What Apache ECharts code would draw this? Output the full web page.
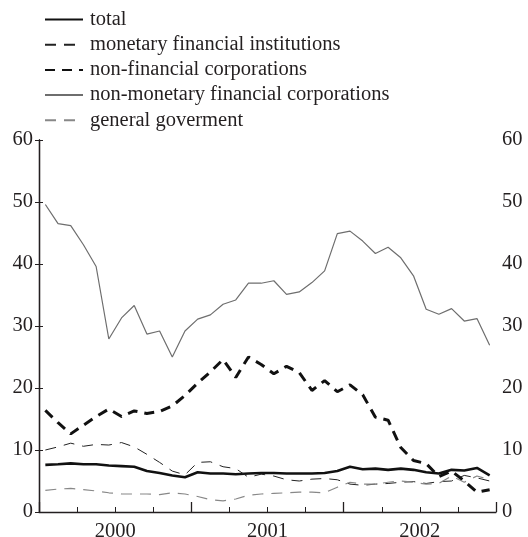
<!DOCTYPE html>
<html>
<head>
<meta charset="utf-8">
<script src="https://cdn.jsdelivr.net/npm/echarts@6/dist/echarts.min.js"></script>
<style>
  html, body { margin: 0; padding: 0; background: #fff; }
  #chart { width: 528px; height: 537px; }
</style>
</head>
<body>
<div id="chart"></div>
<script>
// monthly observations, Jan 2000 .. Dec 2002
var total = [7.6, 7.7, 7.85, 7.7, 7.7, 7.5, 7.4, 7.3, 6.6, 6.3, 5.9, 5.6,
             6.4, 6.2, 6.2, 6.1, 6.2, 6.3, 6.3, 6.2, 6.2, 6.2, 6.3, 6.6,
             7.3, 6.9, 7.0, 6.8, 7.0, 6.8, 6.4, 6.2, 6.8, 6.7, 7.1, 5.9]
var mfi = [10.0, 10.5, 11.1, 10.6, 10.9, 10.8, 11.2, 10.5, 9.3, 8.0, 6.6, 6.0,
           8.0, 8.1, 7.3, 7.0, 5.6, 6.1, 5.8, 5.2, 5.0, 5.3, 5.4, 5.2,
           4.5, 4.3, 4.5, 4.6, 4.8, 4.9, 4.6, 4.9, 5.0, 5.9, 5.5, 5.0]
var nfc = [16.4, 14.4, 12.6, 14.0, 15.4, 16.6, 15.4, 16.3, 15.9, 16.2, 17.1, 18.8,
           20.8, 22.6, 24.6, 21.7, 25.0, 23.8, 22.3, 23.5, 22.5, 19.6, 21.2, 19.4,
           20.5, 18.9, 15.3, 14.8, 10.4, 8.3, 7.8, 5.7, 6.6, 5.0, 3.2, 3.6]
var nmfc = [49.6, 46.5, 46.2, 43.1, 39.6, 27.9, 31.3, 33.3, 28.7, 29.2, 25.0, 29.2,
            31.1, 31.8, 33.5, 34.2, 36.9, 36.9, 37.3, 35.1, 35.5, 37.0, 38.9, 44.9,
            45.3, 43.7, 41.7, 42.7, 41.0, 38.1, 32.7, 31.9, 32.8, 30.8, 31.2, 26.9]
var gov = [3.5, 3.7, 3.8, 3.6, 3.4, 3.1, 2.9, 2.9, 2.9, 2.8, 3.1, 2.9,
           2.5, 2.0, 1.8, 2.1, 2.7, 2.9, 3.0, 3.1, 3.2, 3.2, 3.1, 4.0,
           4.8, 4.5, 4.5, 4.8, 5.0, 4.8, 4.5, 4.6, 5.8, 4.8, 5.8, 5.2]

var names = ['total', 'monetary financial institutions', 'non-financial corporations',
             'non-monetary financial corporations', 'general goverment']
var yearLabels = { 6: '2000', 18: '2001', 30: '2002' }

var font = "'Liberation Serif', 'Times New Roman', serif"
var ink = '#231f20'

function pts(arr) {
    return arr.map(function (v, i) { return [i + 0.5, v] })
}

function yAxis(pos) {
    return {
        type: 'value', position: pos, min: 0, max: 60, interval: 10,
        axisLine: { show: true, lineStyle: { color: ink, width: 1.3 } },
        axisTick: { show: true, inside: true, length: 4, lineStyle: { color: ink } },
        axisLabel: { color: ink, fontFamily: font, fontSize: 20.5, margin: 6 },
        splitLine: { show: false }
    }
}

var chart = echarts.init(document.getElementById('chart'))
chart.setOption({
    animation: false,
    legend: {
        orient: 'vertical', left: 39, top: 4,
        itemWidth: 38, itemHeight: 14, itemGap: 4.2,
        itemStyle: { opacity: 0 },
        textStyle: { fontFamily: font, fontSize: 20.5, color: ink, lineHeight: 20, padding: [0, 0, 0, 2] },
        data: names
    },
    grid: { left: 39, right: 32, top: 140, bottom: 25, outerBoundsMode: 'none' },
    xAxis: [{
        type: 'value', min: 0, max: 36, interval: 3,
        axisLine: { lineStyle: { color: ink, width: 1.3 } },
        axisTick: { inside: true, length: 5, lineStyle: { color: ink } },
        axisLabel: {
            color: ink, fontFamily: font, fontSize: 20.5, margin: 9,
            formatter: function (v) { return yearLabels[v] || '' }
        },
        splitLine: { show: false }
    }, {
        type: 'value', position: 'bottom', min: 0, max: 36, interval: 12,
        axisLine: { show: false },
        axisTick: { inside: true, length: 10, lineStyle: { color: ink, width: 1.3 } },
        axisLabel: { show: false },
        splitLine: { show: false }
    }],
    yAxis: [yAxis('left'), yAxis('right')],
    series: [
        { name: names[0], type: 'line', data: pts(total), symbol: 'none',
          lineStyle: { color: '#111', width: 2.6 }, itemStyle: { color: '#111' } },
        { name: names[1], type: 'line', data: pts(mfi), symbol: 'none',
          lineStyle: { color: '#222', width: 1, type: [11, 8] }, itemStyle: { color: '#222' } },
        { name: names[2], type: 'line', data: pts(nfc), symbol: 'none',
          lineStyle: { color: '#111', width: 3, type: [10, 7] }, itemStyle: { color: '#111' } },
        { name: names[3], type: 'line', data: pts(nmfc), symbol: 'none',
          lineStyle: { color: '#6e6e6e', width: 1.2 }, itemStyle: { color: '#6e6e6e' } },
        { name: names[4], type: 'line', data: pts(gov), symbol: 'none',
          lineStyle: { color: '#888', width: 1.2, type: [11, 8] }, itemStyle: { color: '#888' } }
    ]
})
</script>
</body>
</html>
